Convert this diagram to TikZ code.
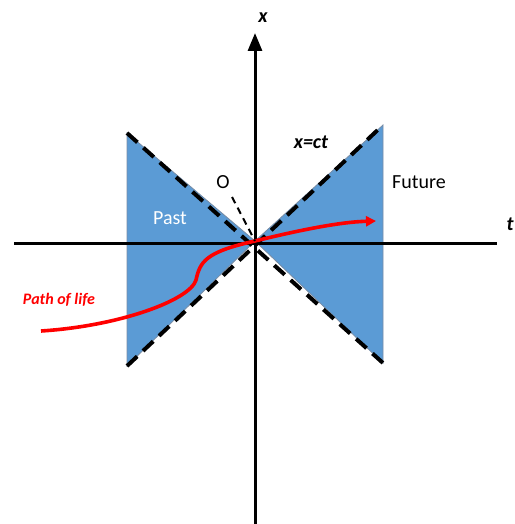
\documentclass[tikz,border=0pt]{standalone}
\usepackage{fontspec}
\setmainfont{Carlito}
\usetikzlibrary{arrows.meta}
\definecolor{coneblue}{RGB}{91,155,213}
\definecolor{coneedge}{RGB}{120,140,165}
\definecolor{lifered}{RGB}{255,0,0}
\begin{document}
\begin{tikzpicture}[x=0.5pt,y=-0.5pt,>=Triangle,
  axis/.style={line width=1.5pt},
  lightline/.style={line width=2pt,dash pattern=on 7pt off 4pt},
  lifeline/.style={line width=1.8pt,lifered}]
  \useasboundingbox (0,0) rectangle (514,524);
  % origin and cone corners
  \coordinate (O) at (255,241);
  \coordinate (pastTop) at (127,133);
  \coordinate (pastBot) at (127,366);
  \coordinate (futTop) at (383,125);
  \coordinate (futBot) at (383,363);
  % cones
  \fill[coneblue,draw=coneedge,line width=0.4pt] (pastTop)--(O)--(pastBot)--cycle;
  \fill[coneblue,draw=coneedge,line width=0.4pt] (futTop)--(O)--(futBot)--cycle;
  % light lines x=ct
  \draw[lightline] (pastTop)--(futBot);
  \draw[lightline] (pastBot)--(futTop);
  % axes
  \coordinate (tLeft) at (14,243);
  \coordinate (tRight) at (497,243);
  \coordinate (xBot) at (255,524);
  \coordinate (xTop) at (255,33);
  \draw[axis] (tLeft)--(tRight);
  \draw[axis,-{Triangle[length=9pt,width=7pt]}] (xBot)--(xTop);
  % path of life
  \coordinate (lifeStart) at (41,331);
  \coordinate (lifeEnd) at (376,221);
  \draw[lifeline,-{Triangle[length=5pt,width=5pt]}] (lifeStart)
    .. controls (120,326) and (190,300) .. (196,280)
    .. controls (200,262) and (205,252) .. (O)
    .. controls (300,230) and (340,222) .. (lifeEnd);
  % labels
  \node (xlab) at (263,18) {\bfseries\itshape x};
  \node (tlab) at (510,224) {\bfseries\itshape t};
  \node (ctlab) at (311,142) {\bfseries\itshape x=ct};
  \node (olab) at (223,182) {O};
  \node[white] (pastlab) at (170,218) {Past};
  \node (futlab) at (419,182) {Future};
  \node[lifered,font=\footnotesize] (lifelab) at (59,300) {\bfseries\itshape Path of life};
  \coordinate (oTail) at (232,197);
  \draw[line width=1pt,dash pattern=on 3.5pt off 2.5pt] (oTail) -- (O);
\end{tikzpicture}
\end{document}
